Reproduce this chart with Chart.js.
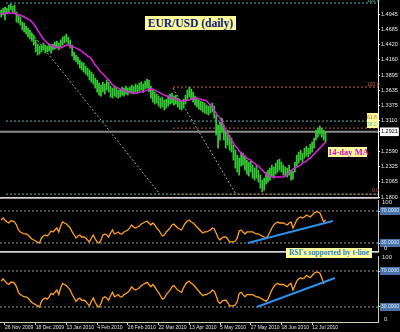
<!DOCTYPE html>
<html>
<head>
<meta charset="utf-8">
<script src="https://cdn.jsdelivr.net/npm/chart.js@4.4.1/dist/chart.umd.min.js"></script>
<style>
html, body { margin: 0; padding: 0; background: #000; }
#wrap { position: relative; width: 400px; height: 332px; overflow: hidden; background: #000; }
canvas { position: absolute; left: 0; }
.sep { position: absolute; left: 0; width: 379px; height: 1px; background: #9a9a9a; border-top: 1px solid #d6d6d6; }
.note { position: absolute; background: #ffff99; font-family: "Liberation Serif", serif; font-weight: bold; white-space: nowrap; text-align: center; }
.tiny { position: absolute; font-family: "Liberation Sans", sans-serif; font-size: 5px; line-height: 5px; white-space: nowrap; }
.axl { position: absolute; font-family: "Liberation Sans", sans-serif; font-size: 6px; line-height: 6px; color: #e0e0e0; }
</style>
</head>
<body>
<div id="wrap">
  <canvas id="priceChart" width="400" height="202" style="top:0"></canvas>
  <canvas id="rsiChart1" width="400" height="56" style="top:198px"></canvas>
  <canvas id="rsiChart2" width="400" height="78" style="top:254px"></canvas>

  <div class="sep" style="top:197px"></div>
  <div class="sep" style="top:251px"></div>

  <div class="note" style="left:145px;top:16px;width:91px;height:14px;line-height:14px;font-size:11.5px;color:#0d1b7a;">EUR/USD (daily)</div>
  <div class="note" style="left:328px;top:147px;width:39px;height:10px;line-height:10px;font-size:8.5px;color:#e000c0;">14-day MA</div>
  <div class="note" style="left:286px;top:248px;width:86px;height:10px;line-height:10px;font-size:7.5px;color:#2a7fd4;">RSI's supported by t-line</div>

  <div class="tiny" style="left:367px;top:-2px;color:#5fb5b5;">100.0</div>
  <div class="tiny" style="left:367px;top:82px;color:#c0643c;">100.0</div>
  <div class="tiny" style="left:372px;top:188px;color:#c0643c;">0.0</div>
  <div class="tiny" style="left:367px;top:113px;width:11px;height:15px;background:#ffff99;">
    <div style="color:#c0643c;margin-top:2px;">61.8</div>
    <div style="color:#5fb5b5;margin-top:2px;">38.2</div>
  </div>

  <div class="axl" style="left:382px;top:199px;">100</div>
  <div class="axl" style="left:384px;top:245px;">0</div>
  <div class="axl" style="left:382px;top:254px;">100</div>
  <div class="axl" style="left:384px;top:316px;">0</div>
</div>

<script>
// --- datos ---
const dateLabels = ['26 Nov 2009', '18 Dec 2009', '13 Jan 2010', '4 Feb 2010', '26 Feb 2010', '22 Mar 2010',
                    '13 Apr 2010', '5 May 2010', '27 May 2010', '18 Jun 2010', '12 Jul 2010'];
const dateBars = [2, 18, 34, 50, 66, 82, 98, 114, 130, 146, 162];

const priceTicks = [1.4945, 1.4685, 1.4420, 1.4160, 1.3895, 1.3635, 1.3375, 1.3110, 1.2921, 1.2590, 1.2325, 1.2065, 1.1800];
const lastPrice = 1.2921;

const high = [
  1.5014,1.5048,1.5066,1.5048,1.5100,1.5117,1.5083,1.5100,1.4980,1.4928,
  1.4894,1.4808,1.4790,1.4739,1.4704,1.4670,1.4618,1.4584,1.4498,1.4429,
  1.4395,1.4412,1.4446,1.4412,1.4395,1.4429,1.4412,1.4429,1.4464,1.4481,
  1.4446,1.4498,1.4550,1.4567,1.4601,1.4550,1.4498,1.4412,1.4292,1.4240,
  1.4206,1.4154,1.4120,1.4102,1.4051,1.4016,1.3982,1.3948,1.3913,1.3844,
  1.3810,1.3758,1.3724,1.3776,1.3741,1.3810,1.3776,1.3707,1.3672,1.3707,
  1.3672,1.3638,1.3655,1.3690,1.3672,1.3707,1.3672,1.3690,1.3724,1.3707,
  1.3741,1.3724,1.3758,1.3776,1.3741,1.3793,1.3827,1.3810,1.3707,1.3638,
  1.3604,1.3569,1.3535,1.3500,1.3518,1.3466,1.3483,1.3535,1.3569,1.3586,
  1.3535,1.3552,1.3500,1.3466,1.3449,1.3483,1.3552,1.3638,1.3690,1.3655,
  1.3604,1.3535,1.3500,1.3466,1.3449,1.3432,1.3414,1.3380,1.3363,1.3397,
  1.3414,1.3363,1.3208,1.3036,1.3088,1.3156,1.3036,1.2916,1.2950,1.2864,
  1.2812,1.2692,1.2606,1.2520,1.2468,1.2572,1.2554,1.2486,1.2434,1.2400,
  1.2417,1.2348,1.2296,1.2331,1.2262,1.2176,1.2090,1.2124,1.2228,1.2262,
  1.2296,1.2348,1.2314,1.2382,1.2434,1.2451,1.2400,1.2348,1.2314,1.2296,
  1.2348,1.2262,1.2245,1.2400,1.2520,1.2572,1.2606,1.2554,1.2640,1.2675,
  1.2640,1.2709,1.2744,1.2812,1.2950,1.2984,1.3019,1.2984,1.2950,1.2916
];
const low = [
  1.4894,1.4928,1.4842,1.4945,1.4980,1.5014,1.4962,1.4945,1.4808,1.4790,
  1.4756,1.4670,1.4636,1.4601,1.4550,1.4515,1.4481,1.4412,1.4292,1.4240,
  1.4257,1.4292,1.4326,1.4274,1.4292,1.4309,1.4274,1.4326,1.4343,1.4360,
  1.4326,1.4378,1.4412,1.4446,1.4464,1.4429,1.4360,1.4223,1.4154,1.4120,
  1.4085,1.4016,1.3982,1.3948,1.3913,1.3879,1.3810,1.3776,1.3741,1.3672,
  1.3604,1.3552,1.3535,1.3604,1.3569,1.3638,1.3604,1.3518,1.3500,1.3535,
  1.3518,1.3500,1.3518,1.3552,1.3535,1.3569,1.3552,1.3586,1.3586,1.3569,
  1.3604,1.3586,1.3621,1.3638,1.3604,1.3655,1.3672,1.3604,1.3500,1.3432,
  1.3397,1.3414,1.3363,1.3328,1.3346,1.3294,1.3328,1.3363,1.3397,1.3414,
  1.3380,1.3397,1.3346,1.3311,1.3294,1.3328,1.3397,1.3466,1.3518,1.3483,
  1.3432,1.3380,1.3346,1.3311,1.3294,1.3260,1.3242,1.3225,1.3208,1.3242,
  1.3260,1.3156,1.2864,1.2640,1.2778,1.2916,1.2778,1.2640,1.2692,1.2606,
  1.2572,1.2434,1.2296,1.2228,1.2176,1.2331,1.2348,1.2262,1.2193,1.2159,
  1.2228,1.2124,1.2090,1.2124,1.2056,1.1952,1.1884,1.1918,1.2021,1.2056,
  1.2090,1.2159,1.2124,1.2193,1.2228,1.2262,1.2228,1.2176,1.2159,1.2142,
  1.2176,1.2090,1.2107,1.2228,1.2331,1.2382,1.2434,1.2400,1.2468,1.2503,
  1.2486,1.2537,1.2572,1.2640,1.2778,1.2830,1.2881,1.2830,1.2778,1.2744
];
// media móvil de 14 días
const ma14 = [
  1.4945,1.4945,1.4962,1.4962,1.4962,1.4962,1.4962,1.4962,1.4945,1.4928,
  1.4928,1.4911,1.4894,1.4876,1.4859,1.4842,1.4808,1.4773,1.4722,1.4670,
  1.4618,1.4567,1.4515,1.4481,1.4446,1.4429,1.4412,1.4395,1.4378,1.4378,
  1.4360,1.4360,1.4378,1.4395,1.4412,1.4412,1.4395,1.4378,1.4378,1.4360,
  1.4343,1.4326,1.4309,1.4274,1.4257,1.4223,1.4206,1.4171,1.4120,1.4068,
  1.4034,1.3982,1.3948,1.3913,1.3879,1.3844,1.3810,1.3776,1.3724,1.3707,
  1.3690,1.3672,1.3655,1.3638,1.3638,1.3621,1.3604,1.3604,1.3586,1.3586,
  1.3586,1.3586,1.3604,1.3604,1.3604,1.3621,1.3638,1.3655,1.3655,1.3655,
  1.3638,1.3621,1.3604,1.3586,1.3569,1.3552,1.3535,1.3535,1.3518,1.3500,
  1.3500,1.3483,1.3466,1.3466,1.3449,1.3449,1.3449,1.3466,1.3466,1.3483,
  1.3483,1.3500,1.3500,1.3483,1.3483,1.3466,1.3466,1.3449,1.3414,1.3380,
  1.3346,1.3294,1.3242,1.3191,1.3156,1.3088,1.3019,1.2950,1.2881,1.2830,
  1.2778,1.2726,1.2675,1.2640,1.2589,1.2554,1.2520,1.2503,1.2468,1.2451,
  1.2434,1.2400,1.2382,1.2348,1.2331,1.2296,1.2262,1.2228,1.2193,1.2176,
  1.2159,1.2142,1.2142,1.2142,1.2142,1.2142,1.2142,1.2142,1.2159,1.2193,
  1.2228,1.2245,1.2279,1.2296,1.2314,1.2331,1.2348,1.2382,1.2400,1.2417,
  1.2451,1.2468,1.2503,1.2537,1.2572,1.2606,1.2640,1.2675,1.2709,1.2744
];
const rsi = [
  58.8,61.3,58.8,56.3,55.0,57.5,57.5,56.3,52.5,46.3,
  43.8,42.5,41.3,41.3,40.0,37.5,35.0,33.8,32.5,31.3,
  30.0,36.3,38.8,40.0,38.8,41.3,45.0,43.8,46.3,48.8,
  43.8,51.3,56.3,55.0,53.8,51.3,48.8,43.8,40.0,36.3,
  38.8,40.0,37.5,37.5,36.3,33.8,31.3,36.3,40.0,35.0,
  31.3,30.0,33.8,40.0,41.3,40.0,37.5,42.5,46.3,41.3,
  42.5,43.8,41.3,41.3,43.8,45.0,46.3,48.8,52.5,50.0,
  48.8,50.0,51.3,53.8,55.0,56.3,57.5,55.0,52.5,55.0,
  52.5,48.8,46.3,42.5,38.8,40.0,43.8,46.3,48.8,52.5,
  53.8,51.3,48.8,47.5,46.3,51.3,55.0,57.5,58.8,56.3,
  55.0,52.5,50.0,47.5,45.0,42.5,43.8,43.8,45.0,46.3,
  48.8,47.5,42.5,36.3,33.8,36.3,37.5,37.5,35.0,31.3,
  31.3,31.3,32.5,36.3,45.0,46.3,43.8,41.3,43.8,43.8,
  43.8,43.8,42.5,41.3,41.3,40.0,38.8,37.5,36.3,38.8,
  43.8,48.8,52.5,55.0,56.3,55.0,55.0,55.0,53.8,52.5,
  55.0,56.3,48.8,53.8,58.8,61.3,62.5,61.3,62.5,65.0,
  63.8,62.5,65.0,67.5,68.8,68.8,67.5,62.5,56.3,58.8
];
const rsiLevels = [70, 30];

// fibonacci y líneas de tendencia (barra inicial / final y valores)
const cyanFibStart = 2.5;
const cyanFibLevels = [1.5134, 1.3105, 1.1849];
const orangeFibStart = 89.5;
const orangeFibLevels = [1.3690, 1.2984, 1.1849];
const diag1Bars = [15.0, 82.7], diag1Prices = [1.4653, 1.1849];
const diag2Bars = [89.5, 122.3], diag2Prices = [1.3672, 1.1849];
const trend1Bars = [128.5, 172.8], trend1Vals = [30, 57.5];
const trend2Bars = [133.2, 173.9], trend2Vals = [30, 62.2];

(function() {
    const xMin = -0.6, xMax = 196.3;
    const tickFont = { family: 'Liberation Sans', size: 5.5 };

    const seg = (x0, x1, y0, y1) => [{ x: x0, y: y0 }, { x: x1, y: y1 }];
    const lineDs = (data, color, width, dash) => ({
        type: 'line', data: data, borderColor: color, borderWidth: width,
        borderDash: dash || [], pointRadius: 0, fill: false, tension: 0
    });
    const fitRight = s => { s.width = 22; s.paddingTop = 0; s.paddingBottom = 0; };
    const hiddenX = { type: 'linear', display: false, min: xMin, max: xMax, offset: false };
    const baseOptions = {
        responsive: false,
        animation: false,
        events: [],
        plugins: { legend: { display: false }, tooltip: { enabled: false } }
    };

    // --- Precio (velas + media móvil) ---
    new Chart(document.getElementById('priceChart'), {
        type: 'bar',
        data: {
            datasets: [
                lineDs(ma14.map((v, i) => ({ x: i, y: v })), '#e01ee0', 1.5),
                {
                    type: 'bar',
                    data: high.map((h, i) => ({ x: i, y: [low[i], h] })),
                    backgroundColor: '#35c835',
                    borderWidth: 0,
                    barThickness: 1.1
                },
                lineDs(seg(xMin, xMax, lastPrice, lastPrice), '#8a8a8a', 2),
                ...orangeFibLevels.map(v => lineDs(seg(orangeFibStart, xMax, v, v), '#c0643c', 1, [2, 2])),
                ...cyanFibLevels.map(v => lineDs(seg(cyanFibStart, xMax, v, v), '#5fb5b5', 1, [2, 2])),
                lineDs(seg(diag1Bars[0], diag1Bars[1], diag1Prices[0], diag1Prices[1]), '#a8a8a8', 1, [2, 2]),
                lineDs(seg(diag2Bars[0], diag2Bars[1], diag2Prices[0], diag2Prices[1]), '#a8a8a8', 1, [2, 2])
            ]
        },
        options: Object.assign({}, baseOptions, {
            layout: { padding: { top: 0, bottom: 5, left: 0, right: 0 } },
            scales: {
                x: hiddenX,
                y: {
                    type: 'linear', position: 'right', min: 1.18, max: 1.5186, beginAtZero: false,
                    border: { color: '#ffffff', width: 1 },
                    grid: { drawOnChartArea: false, color: '#ffffff', tickLength: 2 },
                    afterBuildTicks: s => { s.ticks = priceTicks.map(v => ({ value: v })); },
                    afterFit: fitRight,
                    ticks: {
                        font: tickFont, padding: 1,
                        color: c => (c.tick && c.tick.value === lastPrice ? '#000' : '#e6e6e6'),
                        showLabelBackdrop: true,
                        backdropColor: c => (c.tick && c.tick.value === lastPrice ? '#ffffff' : 'rgba(0,0,0,0)'),
                        backdropPadding: 1,
                        callback: v => Number(v).toFixed(4)
                    }
                }
            }
        })
    });

    // --- RSI (dos paneles) ---
    function rsiChart(id, yMin, yMax, tBars, tVals, padTop, showDates, axisColor) {
        const x = showDates ? {
            type: 'linear', min: xMin, max: xMax, offset: false,
            border: { color: axisColor, width: 1 },
            grid: { drawOnChartArea: false, color: axisColor, tickLength: 3 },
            afterBuildTicks: s => { s.ticks = dateBars.map(v => ({ value: v })); },
            afterFit: s => { s.height = 10; s.paddingLeft = 0; s.paddingRight = 0; },
            ticks: {
                font: { family: 'Liberation Sans', size: 5 }, color: '#e0e0e0', padding: 0, align: 'start',
                autoSkip: false, maxRotation: 0, minRotation: 0,
                callback: v => dateLabels[dateBars.indexOf(v)]
            }
        } : hiddenX;

        new Chart(document.getElementById(id), {
            type: 'line',
            data: {
                datasets: [
                    lineDs(seg(tBars[0], tBars[1], tVals[0], tVals[1]), '#2f8fe8', 2),
                    lineDs(rsi.map((v, i) => ({ x: i, y: v })), '#ffa020', 1.3),
                    ...rsiLevels.map(v => lineDs(seg(xMin, xMax, v, v), '#9a9a9a', 1, [2, 2]))
                ]
            },
            options: Object.assign({}, baseOptions, {
                layout: { padding: { top: padTop, bottom: showDates ? 0 : 3, left: 0, right: 0 } },
                scales: {
                    x: x,
                    y: {
                        type: 'linear', position: 'right', min: yMin, max: yMax,
                        border: { color: axisColor, width: 1 },
                        grid: { drawOnChartArea: false, color: axisColor, tickLength: 2 },
                        afterBuildTicks: s => { s.ticks = rsiLevels.map(v => ({ value: v })); },
                        afterFit: fitRight,
                        ticks: {
                            font: { family: 'Liberation Sans', size: 5 }, padding: 1, color: '#d8ecff',
                            showLabelBackdrop: true, backdropColor: '#4a72a8', backdropPadding: 1,
                            callback: v => Number(v).toFixed(4)
                        }
                    }
                }
            })
        });
    }

    rsiChart('rsiChart1', 20, 83.75, trend1Bars, trend1Vals, 2, false, '#c8c8c8');
    rsiChart('rsiChart2', 13.33, 86.67, trend2Bars, trend2Vals, 2, true, '#d0d0a8');
})();
</script>
</body>
</html>
